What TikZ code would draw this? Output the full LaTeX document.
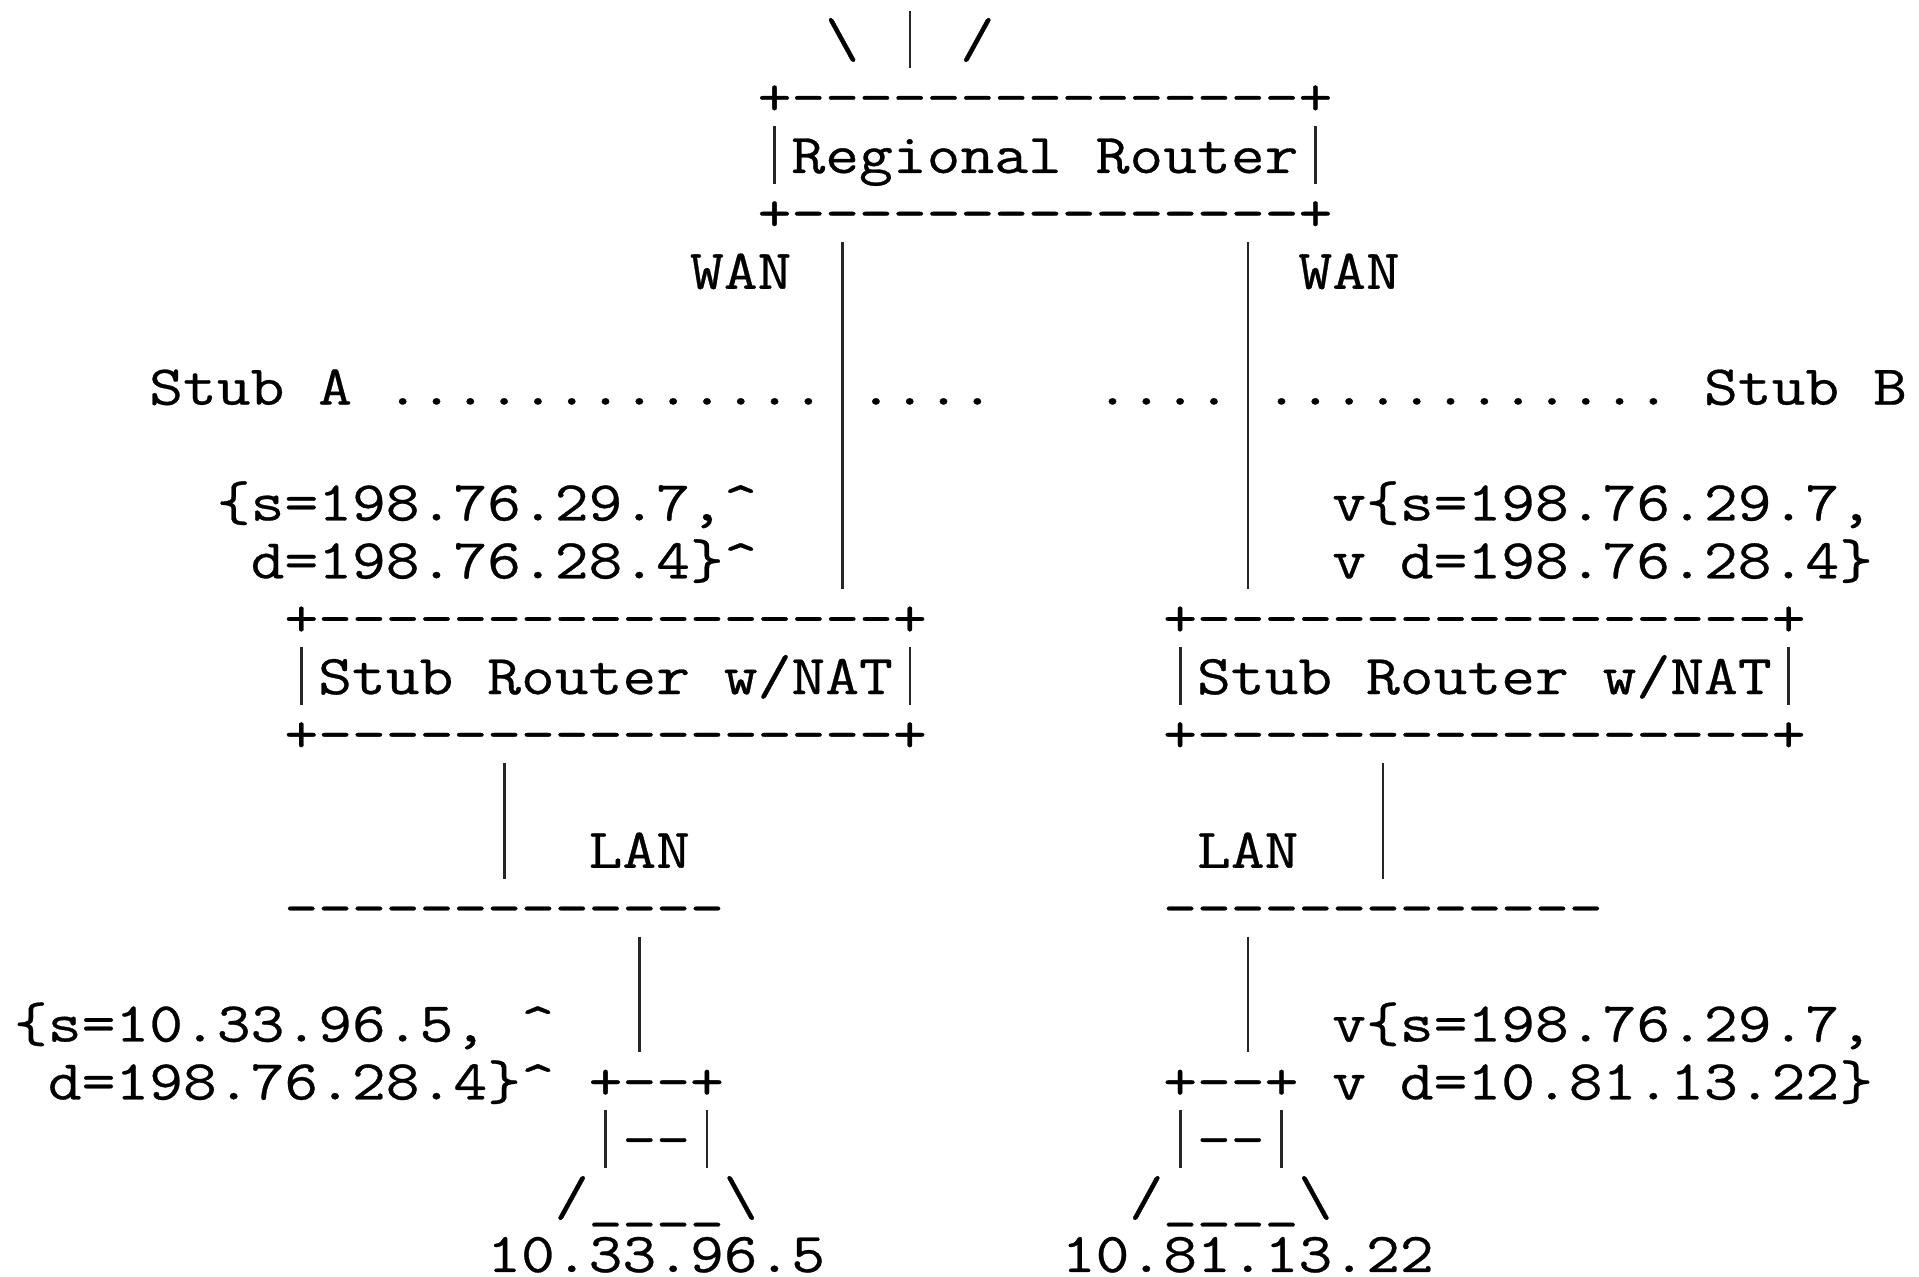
\documentclass[tikz,border=0pt]{standalone}
\usepackage{fontspec}
\newfontfamily\asciifont[FakeStretch=1.166,FakeBold=0.5]{Latin Modern Mono}
\frenchspacing
\tikzset{
  x=0.5pt, y=-0.5pt,
  rowtext/.style={anchor=base west, inner sep=0pt, outer sep=0pt, text height=23.5pt, text depth=5.5pt,
    text=black, font=\asciifont\frenchspacing\fontsize{28.15pt}{30pt}\selectfont},
  lastrow/.style={rowtext, text depth=0pt},
  linkline/.style={draw=black!85, line width=1.3pt}
}
\newcommand\rowt[4]{\node[rowtext] (#1) at ({14+33.8*#2},{57.2+57.9*#3}) {#4};}
\newcommand\colc[1]{\coordinate (c#1) at ({31+33.8*#1},0);}
\begin{document}
\begin{tikzpicture}
\useasboundingbox (0,0) rectangle (1919,1277);
\fill[white] (0,0) rectangle (1919,1277);
\colc{8}\colc{14}\colc{17}\colc{18}\colc{20}\colc{22}\colc{24}\colc{26}
\colc{34}\colc{36}\colc{37}\colc{38}\colc{40}\colc{52}
\coordinate (anttop) at (0,11);
% Regional router
\rowt{antL}{24}{0}{\textbackslash}
\rowt{antR}{28}{0}{/}
\rowt{regtop}{22}{1}{+---------------+}
\rowt{reg}{23}{2}{Regional Router}
\rowt{regbot}{22}{3}{+---------------+}
\rowt{wanA}{20}{4}{WAN}
\rowt{wanB}{38}{4}{WAN}
% Stub line
\rowt{stubA}{4}{6}{Stub A .............}
\rowt{dotsA}{25}{6}{....}
\rowt{dotsB}{32}{6}{....}
\rowt{stubB}{37}{6}{............ Stub B}
% Upper packets
\rowt{pktAa}{6}{8}{\{s=198.76.29.7,\textasciicircum}
\rowt{pktAb}{7}{9}{d=198.76.28.4\}\textasciicircum}
\rowt{pktBa}{39}{8}{v\{s=198.76.29.7,}
\rowt{pktBb}{39}{9}{v d=198.76.28.4\}}
% Stub routers
\rowt{stubAtop}{8}{10}{+-----------------+}
\rowt{stubAmid}{9}{11}{Stub Router w/NAT}
\rowt{stubAbot}{8}{12}{+-----------------+}
\rowt{stubBtop}{34}{10}{+-----------------+}
\rowt{stubBmid}{35}{11}{Stub Router w/NAT}
\rowt{stubBbot}{34}{12}{+-----------------+}
% LANs
\rowt{lanlA}{17}{14}{LAN}
\rowt{lanlB}{35}{14}{LAN}
\rowt{lanA}{8}{15}{-------------}
\rowt{lanB}{34}{15}{-------------}
% Lower packets
\rowt{pktCa}{0}{17}{\{s=10.33.96.5, \textasciicircum}
\rowt{pktCb}{1}{18}{d=198.76.28.4\}\textasciicircum}
\rowt{pktDa}{39}{17}{v\{s=198.76.29.7,}
\rowt{pktDb}{39}{18}{v d=10.81.13.22\}}
% Hosts
\rowt{hostAtop}{17}{18}{+--+}
\rowt{hostAmid}{18}{19}{--}
\rowt{hostAbot}{16}{20}{/\_\_\_\_\textbackslash}
\node[lastrow] (hostAip) at ({14+33.8*14},1272) {10.33.96.5};
\rowt{hostBtop}{34}{18}{+--+}
\rowt{hostBmid}{35}{19}{--}
\rowt{hostBbot}{33}{20}{/\_\_\_\_\textbackslash}
\node[lastrow] (hostBip) at ({14+33.8*31},1272) {10.81.13.22};
% Antenna bar
\draw[linkline] (anttop -| c26) -- (regtop.north -| c26);
% Box sides
\draw[linkline] (regtop.south -| c22) -- (regbot.north -| c22);
\draw[linkline] (regtop.south -| c38) -- (regbot.north -| c38);
\draw[linkline] (stubAtop.south -| c8) -- (stubAbot.north -| c8);
\draw[linkline] (stubAtop.south -| c26) -- (stubAbot.north -| c26);
\draw[linkline] (stubBtop.south -| c34) -- (stubBbot.north -| c34);
\draw[linkline] (stubBtop.south -| c52) -- (stubBbot.north -| c52);
\draw[linkline] (hostAtop.south -| c17) -- (hostAbot.north -| c17);
\draw[linkline] (hostAtop.south -| c20) -- (hostAbot.north -| c20);
\draw[linkline] (hostBtop.south -| c34) -- (hostBbot.north -| c34);
\draw[linkline] (hostBtop.south -| c37) -- (hostBbot.north -| c37);
% Connectors
\draw[linkline] (regbot.south -| c24) -- (stubAtop.north -| c24);
\draw[linkline] (regbot.south -| c36) -- (stubBtop.north -| c36);
\draw[linkline] (stubAbot.south -| c14) -- (lanA.north -| c14);
\draw[linkline] (stubBbot.south -| c40) -- (lanB.north -| c40);
\draw[linkline] (lanA.south -| c18) -- (hostAtop.north -| c18);
\draw[linkline] (lanB.south -| c36) -- (hostBtop.north -| c36);
\end{tikzpicture}
\end{document}
